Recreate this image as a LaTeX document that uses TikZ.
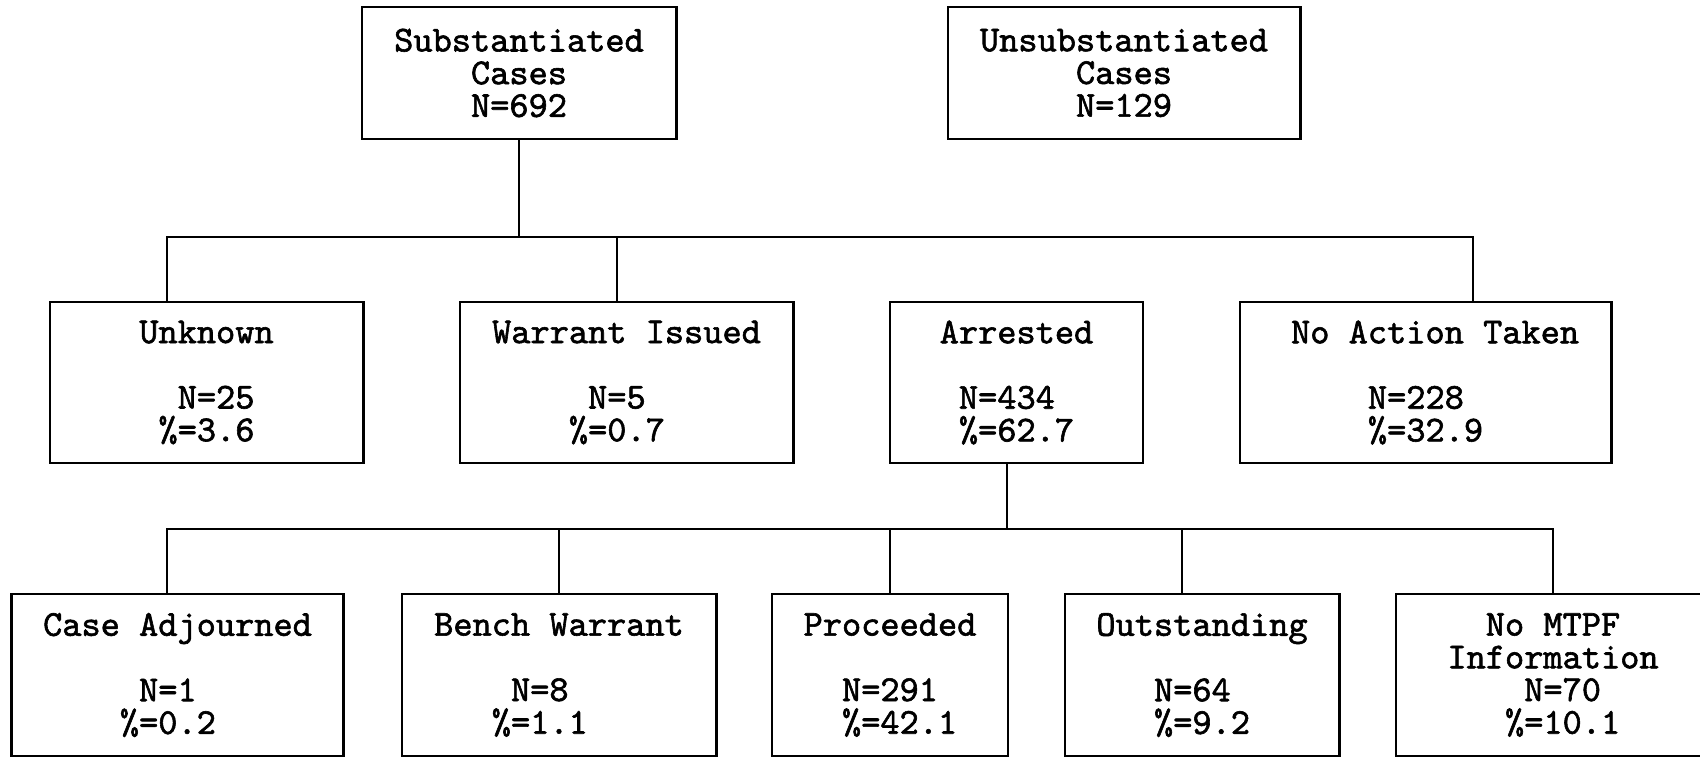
\documentclass[tikz,border=0pt]{standalone}
\usepackage{fontspec}
\newfontfamily\typew{lmmono10-regular}[Extension=.otf, RawFeature={embolden=1.6}]
\tikzset{
  px/.style={x=0.01cm, y=-0.01cm},
  box/.style={draw, line width=0.8pt, inner sep=0pt, align=center,
    font=\typew\fontsize{10.4pt}{9.3pt}\selectfont},
  top/.style={box, minimum height=1.32cm},      % first row
  mid/.style={box, minimum height=1.61cm},      % second row
  low/.style={box, minimum height=1.62cm},      % third row
  link/.style={line width=0.8pt},
}
\newcommand{\pad}{\hphantom{0}}
\begin{document}
\begin{tikzpicture}[px]
  \useasboundingbox (0,0) rectangle (1700,758);
  % first row
  \node[top, minimum width=3.14cm] (subst) at (519,73)
       {Substantiated\\Cases\\N=692};
  \node[top, minimum width=3.52cm] (unsub) at (1124,73)
       {Unsubstantiated\\Cases\\N=129};
  % second row
  \node[mid, minimum width=3.13cm] (unk) at (206.5,382.5)
       {Unknown\\~\\\pad N=25\\\%=3.6};
  \node[mid, minimum width=3.33cm] (warr) at (626.5,382.5)
       {Warrant Issued\\~\\N=5\pad\\\%=0.7\pad};
  \node[mid, minimum width=2.53cm] (arr) at (1016.5,382.5)
       {Arrested\\~\\N=434\pad\\\%=62.7};
  \node[mid, minimum width=3.71cm] (noact) at (1425.5,382.5)
       {\pad No Action Taken\\~\\N=228\pad\\\%=32.9};
  % third row
  \node[low, minimum width=3.31cm] (adj) at (177.5,675)
       {Case Adjourned\\~\\N=1\pad\\\%=0.2\pad};
  \node[low, minimum width=3.14cm] (bench) at (559,675)
       {Bench Warrant\\~\\N=8\pad\pad\\\%=1.1\pad\pad};
  \node[low, minimum width=2.36cm] (proc) at (890,675)
       {Proceeded\\~\\\pad N=291\pad\\\pad\%=42.1};
  \node[low, minimum width=2.74cm] (outst) at (1202,675)
       {Outstanding\\~\\N=64\pad\\\%=9.2};
  \node[low, minimum width=3.14cm] (nomtpf) at (1553,675)
       {No MTPF\\Information\\\pad N=70\\\pad\%=10.1};
  % junctions
  \coordinate (j1) at (519,237);
  \coordinate (j1w) at (167,237);
  \coordinate (j1m) at (617,237);
  \coordinate (j1e) at (1473,237);
  \coordinate (j2) at (1007,529);
  \coordinate (j2w) at (167,529);
  \coordinate (j2a) at (559,529);
  \coordinate (j2b) at (890,529);
  \coordinate (j2c) at (1182,529);
  \coordinate (j2e) at (1553,529);
  % substantiated -> outcomes
  \draw[link] (subst.south -| j1) -- (j1);
  \draw[link] (j1w |- unk.north) -- (j1w) -- (j1e) -- (j1e |- noact.north);
  \draw[link] (j1m) -- (j1m |- warr.north);
  % arrested -> court outcomes
  \draw[link] (arr.south -| j2) -- (j2);
  \draw[link] (j2w |- adj.north) -- (j2w) -- (j2e) -- (j2e |- nomtpf.north);
  \draw[link] (j2a) -- (j2a |- bench.north);
  \draw[link] (j2b) -- (j2b |- proc.north);
  \draw[link] (j2c) -- (j2c |- outst.north);
\end{tikzpicture}
\end{document}
